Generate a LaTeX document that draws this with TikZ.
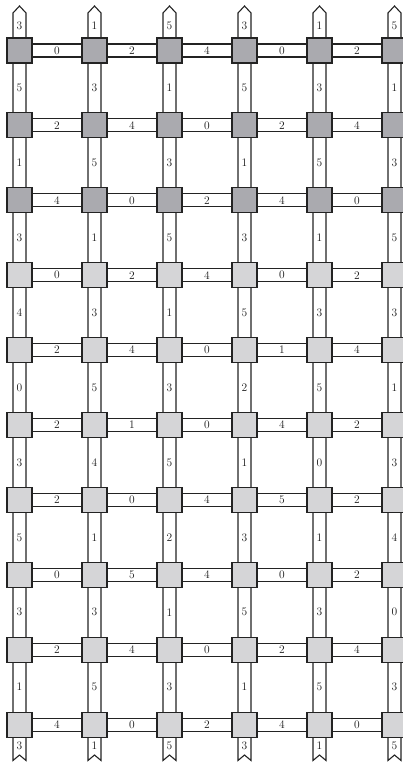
\documentclass[tikz,border=0pt]{standalone}
\usetikzlibrary{calc,backgrounds}
\definecolor{sqdark}{RGB}{170,170,175}
\definecolor{sqlight}{RGB}{213,213,215}
\definecolor{edge}{RGB}{35,35,35}
\begin{document}
\begin{tikzpicture}[x=1pt,y=-1pt,
  sq/.style={draw=edge, line width=1.1pt, minimum size=25pt, inner sep=0pt, outer sep=0pt},
  dsq/.style={sq, fill=sqdark},
  lsq/.style={sq, fill=sqlight},
  band/.style={draw=edge, line width=1.1pt, fill=white, line join=miter},
  lab/.style={font=\fontsize{11.5}{13}\selectfont, inner sep=0pt, text=black!90}]
\useasboundingbox (0,0) rectangle (403,762);
% squares
\foreach \j in {1,...,10}{
  \foreach \i in {1,...,6}{
    \ifnum\j<4
      \node[dsq] (s-\i-\j) at ({19.5+75*(\i-1)},{50.5+74.9*(\j-1)}) {};
    \else
      \node[lsq] (s-\i-\j) at ({19.5+75*(\i-1)},{50.5+74.9*(\j-1)}) {};
    \fi
  }
}
% strip ends
\foreach \i in {1,...,6}{
  \coordinate (top-\i) at ({19.5+75*(\i-1)},6);
  \coordinate (bot-\i) at ({19.5+75*(\i-1)},755);
}
\begin{scope}[on background layer]
  \foreach \i in {1,...,6}{
    \draw[band] (top-\i) -- ++(6.5,7) -- ($(bot-\i)+(6.5,5.5)$) -- (bot-\i)
      -- ++(-6.5,5.5) -- ($(top-\i)+(-6.5,7)$) -- cycle;
  }
  \foreach \j in {1,...,10}{
    \foreach \i [evaluate=\i as \k using int(\i+1)] in {1,...,5}{
      \draw[band] ($(s-\i-\j.east)+(0,-6.5)$) rectangle ($(s-\k-\j.west)+(0,6.5)$);
    }
  }
\end{scope}
% horizontal labels
\foreach \row [count=\j] in {{0,2,4,0,2},{2,4,0,2,4},{4,0,2,4,0},{0,2,4,0,2},{2,4,0,1,4},
    {2,1,0,4,2},{2,0,4,5,2},{0,5,4,0,2},{2,4,0,2,4},{4,0,2,4,0}}{
  \foreach \v [count=\i, evaluate=\i as \k using int(\i+1)] in \row{
    \node[lab] (h-\i-\j) at ($(s-\i-\j.east)!0.5!(s-\k-\j.west)$) {\v};
  }
}
% vertical labels
\foreach \row [count=\j, evaluate=\j as \m using int(\j+1)] in {{5,3,1,5,3,1},{1,5,3,1,5,3},{3,1,5,3,1,5},
    {4,3,1,5,3,3},{0,5,3,2,5,1},{3,4,5,1,0,3},{5,1,2,3,1,4},{3,3,1,5,3,0},{1,5,3,1,5,3}}{
  \foreach \v [count=\i] in \row{
    \node[lab] (v-\i-\j) at ($(s-\i-\j.south)!0.5!(s-\i-\m.north)$) {\v};
  }
}
% top and bottom labels
\foreach \v [count=\i] in {3,1,5,3,1,5}{
  \node[lab] (t-\i) at ($(s-\i-1.north)!0.5!(top-\i)+(0,3.5)$) {\v};
  \node[lab] (b-\i) at ($(s-\i-10.south)!0.5!(bot-\i)$) {\v};
}
\end{tikzpicture}
\end{document}
